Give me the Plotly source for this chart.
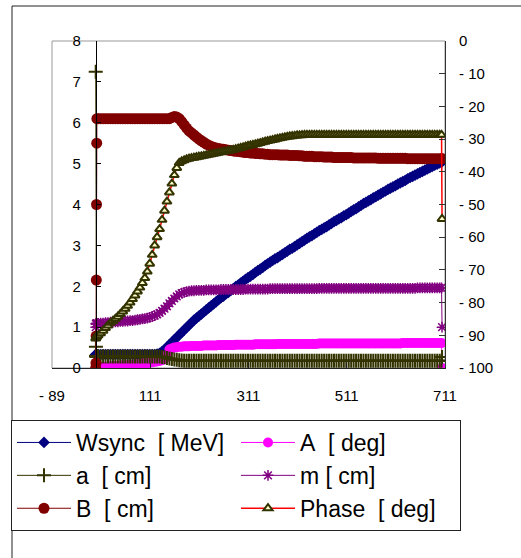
import plotly.graph_objects as go

# ---- data (x grid: 7 start points, then every 5 units, then 2 end points) ----
X_POS = [0, 0.4, 0.8, 1.2, 1.6, 2.0, 2.4,
         5, 10, 15, 20, 25, 30, 35, 40, 45, 50, 55, 60, 65, 70, 75, 80, 85, 90, 95, 100,
         105, 110, 115, 120, 125, 130, 135, 140, 145, 150, 155, 160, 165, 170, 175, 180, 185, 190, 195, 200,
         205, 210, 215, 220, 225, 230, 235, 240, 245, 250, 255, 260, 265, 270, 275, 280, 285, 290, 295, 300,
         305, 310, 315, 320, 325, 330, 335, 340, 345, 350, 355, 360, 365, 370, 375, 380, 385, 390, 395, 400,
         405, 410, 415, 420, 425, 430, 435, 440, 445, 450, 455, 460, 465, 470, 475, 480, 485, 490, 495, 500,
         505, 510, 515, 520, 525, 530, 535, 540, 545, 550, 555, 560, 565, 570, 575, 580, 585, 590, 595, 600,
         605, 610, 615, 620, 625, 630, 635, 640, 645, 650, 655, 660, 665, 670, 675, 680, 685, 690, 695, 700,
         704, 705]

WSYNC_MEV = [0.33, 0.33, 0.33, 0.33, 0.33, 0.33, 0.33,
             0.33, 0.33, 0.33, 0.33, 0.33, 0.33, 0.33, 0.33, 0.33, 0.33, 0.33, 0.33, 0.33, 0.33, 0.33, 0.33, 0.33, 0.33, 0.33, 0.33,
             0.33, 0.33, 0.33, 0.33, 0.34, 0.36, 0.40, 0.45, 0.51, 0.57, 0.63, 0.69, 0.75, 0.81, 0.87, 0.93, 0.99, 1.05, 1.11, 1.17,
             1.22, 1.27, 1.32, 1.37, 1.42, 1.47, 1.52, 1.57, 1.62, 1.67, 1.72, 1.76, 1.81, 1.85, 1.90, 1.94, 1.99, 2.03, 2.08, 2.12,
             2.17, 2.21, 2.25, 2.29, 2.34, 2.38, 2.42, 2.46, 2.51, 2.55, 2.59, 2.63, 2.67, 2.70, 2.74, 2.78, 2.82, 2.86, 2.90, 2.93,
             2.97, 3.01, 3.05, 3.09, 3.13, 3.17, 3.21, 3.24, 3.28, 3.32, 3.36, 3.39, 3.43, 3.46, 3.50, 3.54, 3.58, 3.61, 3.65, 3.68,
             3.72, 3.75, 3.79, 3.83, 3.87, 3.90, 3.94, 3.98, 4.02, 4.05, 4.09, 4.12, 4.16, 4.19, 4.23, 4.26, 4.30, 4.33, 4.37, 4.40,
             4.43, 4.46, 4.50, 4.53, 4.56, 4.59, 4.63, 4.66, 4.69, 4.72, 4.75, 4.78, 4.81, 4.84, 4.87, 4.90, 4.93, 4.96, 4.99, 5.02,
             5.04, 5.05]

A_DEG = [0.00, 0.00, 0.01, 0.01, 0.02, 0.02, 0.02,
         0.02, 0.02, 0.03, 0.03, 0.03, 0.04, 0.04, 0.05, 0.05, 0.06, 0.06, 0.07, 0.07, 0.08, 0.08, 0.09, 0.09, 0.10, 0.11, 0.12,
         0.12, 0.13, 0.14, 0.15, 0.16, 0.17, 0.19, 0.22, 0.32, 0.45, 0.48, 0.50, 0.51, 0.52, 0.52, 0.53, 0.53, 0.53, 0.54, 0.54,
         0.54, 0.54, 0.54, 0.55, 0.55, 0.55, 0.55, 0.55, 0.55, 0.56, 0.56, 0.56, 0.56, 0.56, 0.56, 0.56, 0.57, 0.57, 0.57, 0.57,
         0.57, 0.57, 0.57, 0.57, 0.58, 0.58, 0.58, 0.58, 0.58, 0.58, 0.58, 0.58, 0.58, 0.59, 0.59, 0.59, 0.59, 0.59, 0.59, 0.59,
         0.59, 0.59, 0.59, 0.59, 0.59, 0.59, 0.59, 0.59, 0.59, 0.59, 0.60, 0.60, 0.60, 0.60, 0.60, 0.60, 0.60, 0.60, 0.60, 0.60,
         0.60, 0.60, 0.60, 0.60, 0.60, 0.60, 0.60, 0.60, 0.60, 0.60, 0.60, 0.60, 0.60, 0.60, 0.60, 0.60, 0.60, 0.60, 0.60, 0.60,
         0.60, 0.60, 0.60, 0.60, 0.61, 0.61, 0.61, 0.61, 0.61, 0.61, 0.61, 0.61, 0.61, 0.61, 0.61, 0.61, 0.61, 0.61, 0.61, 0.61,
         0.61, 0.00]

A_CM = [7.25, 0.52, 0.30, 0.28, 0.28, 0.28, 0.28,
        0.28, 0.28, 0.28, 0.28, 0.28, 0.28, 0.28, 0.28, 0.28, 0.28, 0.28, 0.28, 0.28, 0.28, 0.28, 0.28, 0.28, 0.28, 0.28, 0.28,
        0.28, 0.28, 0.28, 0.28, 0.28, 0.28, 0.27, 0.26, 0.245, 0.23, 0.22, 0.21, 0.20, 0.19, 0.185, 0.18, 0.18, 0.18, 0.18, 0.18,
        0.18, 0.18, 0.18, 0.18, 0.18, 0.18, 0.18, 0.18, 0.18, 0.18, 0.18, 0.18, 0.18, 0.18, 0.18, 0.18, 0.18, 0.18, 0.18, 0.18,
        0.18, 0.18, 0.18, 0.18, 0.18, 0.18, 0.18, 0.18, 0.18, 0.18, 0.18, 0.18, 0.18, 0.18, 0.18, 0.18, 0.18, 0.18, 0.18, 0.18,
        0.18, 0.18, 0.18, 0.18, 0.18, 0.18, 0.18, 0.18, 0.18, 0.18, 0.18, 0.18, 0.18, 0.18, 0.18, 0.18, 0.18, 0.18, 0.18, 0.18,
        0.18, 0.18, 0.18, 0.18, 0.18, 0.18, 0.18, 0.18, 0.18, 0.18, 0.18, 0.18, 0.18, 0.18, 0.18, 0.18, 0.18, 0.18, 0.18, 0.18,
        0.18, 0.18, 0.18, 0.18, 0.18, 0.18, 0.18, 0.18, 0.18, 0.18, 0.18, 0.18, 0.18, 0.18, 0.18, 0.18, 0.18, 0.18, 0.18, 0.18,
        0.18, 0.27]

M_CM = [1.00, 1.08, 1.08, 1.08, 1.09, 1.09, 1.09,
        1.09, 1.10, 1.10, 1.11, 1.11, 1.12, 1.12, 1.13, 1.13, 1.14, 1.14, 1.15, 1.15, 1.16, 1.16, 1.17, 1.18, 1.19, 1.20, 1.21,
        1.22, 1.24, 1.26, 1.28, 1.31, 1.35, 1.40, 1.45, 1.51, 1.58, 1.64, 1.70, 1.75, 1.80, 1.83, 1.85, 1.87, 1.88, 1.89, 1.89,
        1.90, 1.90, 1.90, 1.90, 1.91, 1.91, 1.91, 1.91, 1.91, 1.91, 1.92, 1.92, 1.92, 1.92, 1.92, 1.92, 1.92, 1.92, 1.92, 1.92,
        1.93, 1.93, 1.93, 1.93, 1.93, 1.93, 1.93, 1.93, 1.93, 1.93, 1.94, 1.94, 1.94, 1.94, 1.94, 1.94, 1.94, 1.94, 1.94, 1.94,
        1.94, 1.94, 1.94, 1.94, 1.94, 1.94, 1.94, 1.94, 1.94, 1.94, 1.95, 1.95, 1.95, 1.95, 1.95, 1.95, 1.95, 1.95, 1.95, 1.95,
        1.95, 1.95, 1.95, 1.95, 1.95, 1.95, 1.95, 1.95, 1.95, 1.95, 1.95, 1.95, 1.95, 1.95, 1.95, 1.95, 1.95, 1.95, 1.95, 1.95,
        1.95, 1.95, 1.95, 1.95, 1.95, 1.95, 1.95, 1.95, 1.95, 1.95, 1.96, 1.96, 1.96, 1.96, 1.96, 1.96, 1.96, 1.96, 1.96, 1.96,
        1.96, 1.00]

B_CM = [0.00, 0.12, 0.78, 2.15, 4.00, 5.50, 6.10,
        6.10, 6.10, 6.10, 6.10, 6.10, 6.10, 6.10, 6.10, 6.10, 6.10, 6.10, 6.10, 6.10, 6.10, 6.10, 6.10, 6.10, 6.10, 6.10, 6.10,
        6.10, 6.10, 6.10, 6.10, 6.10, 6.10, 6.10, 6.10, 6.10, 6.10, 6.13, 6.15, 6.14, 6.10, 6.03, 5.95, 5.87, 5.80, 5.75, 5.70,
        5.65, 5.60, 5.56, 5.52, 5.48, 5.45, 5.42, 5.40, 5.38, 5.37, 5.36, 5.35, 5.34, 5.33, 5.32, 5.31, 5.30, 5.30, 5.29, 5.28,
        5.27, 5.27, 5.26, 5.26, 5.25, 5.25, 5.24, 5.24, 5.23, 5.23, 5.22, 5.22, 5.22, 5.22, 5.21, 5.21, 5.21, 5.21, 5.20, 5.20,
        5.20, 5.20, 5.19, 5.19, 5.18, 5.18, 5.18, 5.18, 5.17, 5.17, 5.17, 5.17, 5.16, 5.16, 5.16, 5.16, 5.15, 5.15, 5.15, 5.15,
        5.15, 5.15, 5.15, 5.15, 5.14, 5.14, 5.14, 5.14, 5.14, 5.14, 5.14, 5.14, 5.14, 5.14, 5.13, 5.13, 5.13, 5.13, 5.13, 5.13,
        5.13, 5.13, 5.13, 5.13, 5.13, 5.13, 5.12, 5.12, 5.12, 5.12, 5.12, 5.12, 5.12, 5.12, 5.12, 5.12, 5.12, 5.12, 5.12, 5.12,
        5.12, 5.12]

PHASE_DEG = [-91.0, -90.8, -90.6, -90.5, -90.4, -90.3, -90.2,
             -90.0, -89.4, -88.6, -87.8, -87.0, -86.2, -85.6, -85.0, -84.3, -83.5, -82.7, -81.9, -81.0, -80.0, -78.9, -77.8, -76.6, -75.4, -74.0, -72.5,
             -70.5, -68.1, -65.4, -62.5, -60.0, -57.5, -54.7, -51.9, -49.1, -46.3, -43.6, -41.0, -38.8, -37.3, -36.8, -36.5, -36.2, -36.0, -35.8, -35.7,
             -35.55, -35.4, -35.25, -35.1, -34.95, -34.8, -34.65, -34.5, -34.35, -34.2, -34.05, -33.9, -33.75, -33.6, -33.45, -33.3, -33.1, -32.9, -32.7, -32.5,
             -32.3, -32.1, -31.95, -31.8, -31.6, -31.4, -31.2, -31.0, -30.8, -30.6, -30.45, -30.3, -30.1, -29.9, -29.75, -29.6, -29.45, -29.3, -29.2, -29.1,
             -29.0, -28.9, -28.85, -28.8, -28.75, -28.7, -28.7, -28.7, -28.7, -28.7, -28.7, -28.7, -28.7, -28.7, -28.7, -28.7, -28.7, -28.7, -28.7, -28.7,
             -28.7, -28.7, -28.7, -28.7, -28.7, -28.7, -28.7, -28.7, -28.7, -28.7, -28.7, -28.7, -28.7, -28.7, -28.7, -28.7, -28.7, -28.7, -28.7, -28.7,
             -28.7, -28.7, -28.7, -28.7, -28.7, -28.7, -28.7, -28.7, -28.7, -28.7, -28.7, -28.7, -28.7, -28.7, -28.7, -28.7, -28.7, -28.7, -28.7, -28.7,
             -28.7, -54.4]

X_TICKS = [-89, 111, 311, 511, 711]
X_TICK_TEXT = ["- 89", "111", "311", "511", "711"]
YL_TICKS = [0, 1, 2, 3, 4, 5, 6, 7, 8]
YR_TICKS = [-100, -90, -80, -70, -60, -50, -40, -30, -20, -10, 0]
YR_TICK_TEXT = ["- 100", "- 90", "- 80", "- 70", "- 60", "- 50",
                "- 40", "- 30", "- 20", "- 10", "0"]

NB = "\u00a0"
NAMES = ["Wsync" + NB * 2 + "[" + NB + "MeV]",
         "A" + NB * 2 + "[" + NB + "deg]",
         "a" + NB * 2 + "[" + NB + "cm]",
         "m" + NB + "[" + NB + "cm]",
         "B" + NB * 2 + "[" + NB + "cm]",
         "Phase" + NB * 2 + "[" + NB + "deg]"]

FONT = "Arial, Liberation Sans, sans-serif"

fig = go.Figure()

fig.add_trace(go.Scatter(x=X_POS, y=WSYNC_MEV, name=NAMES[0], mode="lines+markers",
                         line=dict(color="#000080", width=1),
                         marker=dict(symbol="diamond", size=9, color="#000080")))
fig.add_trace(go.Scatter(x=X_POS, y=A_DEG, name=NAMES[1], mode="lines+markers",
                         line=dict(color="#FF00FF", width=1),
                         marker=dict(symbol="circle", size=10, color="#FF00FF")))
fig.add_trace(go.Scatter(x=X_POS, y=A_CM, name=NAMES[2], mode="lines+markers",
                         line=dict(color="#333300", width=1),
                         marker=dict(symbol="cross-thin", size=10,
                                     line=dict(color="#333300", width=2))))
fig.add_trace(go.Scatter(x=X_POS, y=M_CM, name=NAMES[3], mode="lines+markers",
                         line=dict(color="#800080", width=1),
                         marker=dict(symbol="asterisk", size=9,
                                     line=dict(color="#800080", width=1.5))))
fig.add_trace(go.Scatter(x=X_POS, y=B_CM, name=NAMES[4], mode="lines+markers",
                         line=dict(color="#800000", width=1),
                         marker=dict(symbol="circle", size=11, color="#800000")))
fig.add_trace(go.Scatter(x=X_POS, y=PHASE_DEG, name=NAMES[5], mode="lines+markers",
                         yaxis="y2",
                         line=dict(color="#FF0000", width=1.5),
                         marker=dict(symbol="triangle-up", size=8, color="#FFFFCC",
                                     line=dict(color="#333300", width=2))))

W, H = 521, 558
L, R, T, B = 52, 76, 41, 190
pw, ph = W - L - R, H - T - B


def px2x(px):
    return (px - L) / pw


def py2y(py):
    return (H - B - py) / ph


fig.update_layout(
    width=W, height=H,
    margin=dict(l=L, r=R, t=T, b=B, autoexpand=False),
    paper_bgcolor="white", plot_bgcolor="white",
    font=dict(family=FONT, size=15, color="black"),
    xaxis=dict(range=[-89, 711], tickmode="array", tickvals=X_TICKS, ticktext=X_TICK_TEXT,
               showgrid=False, zeroline=False, showline=True, linecolor="#222", linewidth=1,
               ticks="inside", ticklen=5, tickcolor="#222", ticklabelstandoff=14,
               tickfont=dict(size=15, color="black", family=FONT)),
    yaxis=dict(range=[0, 8], tickmode="array", tickvals=YL_TICKS,
               anchor="free", position=89 / 800, side="left",
               showgrid=False, zeroline=False, showline=True, linecolor="black", linewidth=1,
               ticks="inside", ticklen=4, tickcolor="black", ticklabelstandoff=12,
               tickfont=dict(size=15, color="black", family=FONT)),
    yaxis2=dict(range=[-100, 0], tickmode="array", tickvals=YR_TICKS, ticktext=YR_TICK_TEXT,
                overlaying="y", side="right", anchor="x",
                showgrid=False, zeroline=False, showline=True, linecolor="#333", linewidth=1,
                ticks="inside", ticklen=6, tickcolor="#333", ticklabelstandoff=10,
                tickfont=dict(size=15, color="black", family=FONT)),
    legend=dict(orientation="h", x=px2x(461), xanchor="right", y=py2y(420), yanchor="top",
                bgcolor="white", bordercolor="#222", borderwidth=1,
                font=dict(family=FONT, size=23, color="black"),
                entrywidth=155, entrywidthmode="pixels", itemwidth=54,
                traceorder="normal", tracegroupgap=0),
    showlegend=True,
    shapes=[
        dict(type="rect", xref="paper", yref="paper", x0=0, x1=1, y0=0, y1=1,
             line=dict(color="#999999", width=1), layer="below"),
        dict(type="rect", xref="paper", yref="paper",
             x0=px2x(12), x1=px2x(560), y0=py2y(600), y1=py2y(6),
             line=dict(color="#222", width=1), layer="below"),
    ],
)

fig.write_html("out.html")
